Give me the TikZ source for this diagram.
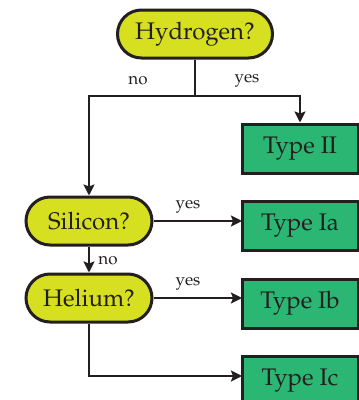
\documentclass[tikz,border=0pt]{standalone}
\usepackage[T1]{fontenc}
\usepackage{mathpazo}
\usetikzlibrary{shapes.misc,arrows.meta}
\definecolor{qyellow}{RGB}{214,224,33}
\definecolor{tgreen}{RGB}{43,182,115}
\definecolor{ink}{RGB}{35,31,32}
\tikzset{
  question/.style={rounded rectangle, draw=ink, line width=3pt, fill=qyellow, minimum height=48pt, inner sep=0pt, font=\fontsize{24}{28}\selectfont, text=ink},
  typebox/.style={rectangle, draw=ink, line width=3pt, fill=tgreen, minimum width=116pt, minimum height=49pt, inner sep=0pt, font=\fontsize{24}{28}\selectfont, text=ink},
  conn/.style={draw=ink, line width=2.8pt},
  arr/.style={conn, -{Stealth[length=11pt,width=11pt,inset=2pt]}},
  lab/.style={font=\fontsize{17}{20}\selectfont, text=ink, inner sep=0pt}
}
\begin{document}
\begin{tikzpicture}[x=1pt,y=-1pt]
\useasboundingbox (0,0) rectangle (359,400);
\node[question, minimum width=155pt] (h) at (195,34) {Hydrogen?};
\node[question, minimum width=126pt] (s) at (89,221) {Silicon?};
\node[question, minimum width=126pt] (he) at (89,298) {Helium?};
\node[typebox] (t2) at (300,148.5) {Type II};
\node[typebox] (ta) at (300,226) {Type Ia};
\node[typebox] (tb) at (300,303.5) {Type Ib};
\node[typebox] (tc) at (300,380.5) {Type Ic};
\coordinate (j) at (195,96);
\draw[conn] (h.south) -- (j);
\draw[arr] (j) -| (s.north);
\draw[arr] (j) -| (t2.north);
\node[lab] (lno1) at (138,81) {no};
\node[lab] (lyes1) at (247,81) {yes};
\coordinate (sa) at (242,221);
\draw[arr] (s.east) -- (sa);
\node[lab] (lyes2) at (188,207) {yes};
\draw[arr] (s.south) -- (he.north);
\node[lab] (lno2) at (108,261) {no};
\coordinate (ha) at (242,298);
\draw[arr] (he.east) -- (ha);
\node[lab] (lyes3) at (188,284) {yes};
\coordinate (ca) at (242,376);
\draw[arr] (he.south) |- (ca);
\end{tikzpicture}
\end{document}
